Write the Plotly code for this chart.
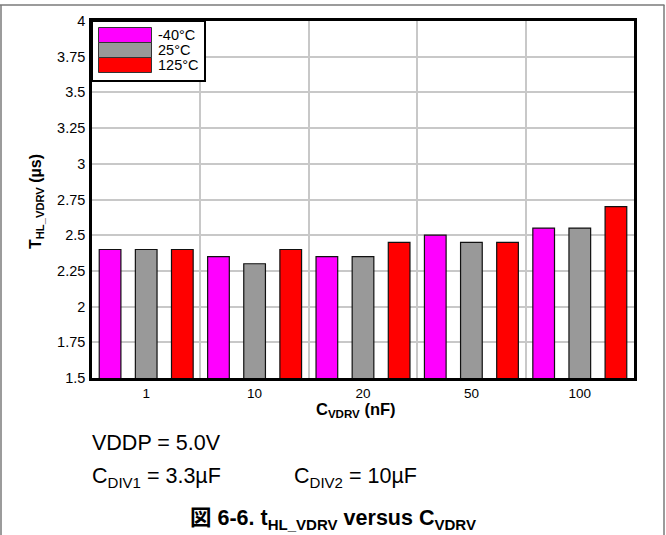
import plotly.graph_objects as go

categories = ["1", "10", "20", "50", "100"]
series_names = ["-40°C", "25°C", "125°C"]
vals_m40 = [2.40, 2.35, 2.35, 2.50, 2.55]
vals_25 = [2.40, 2.30, 2.35, 2.45, 2.55]
vals_125 = [2.40, 2.40, 2.45, 2.45, 2.70]
colors = ["#FF00FF", "#999999", "#FF0000"]
ytick_vals = [1.5, 1.75, 2, 2.25, 2.5, 2.75, 3, 3.25, 3.5, 3.75, 4]
ytick_text = ["1.5", "1.75", "2", "2.25", "2.5", "2.75", "3", "3.25", "3.5", "3.75", "4"]

W, H = 666, 535
L, R, T, B = 92, 634, 21, 378
FONT = "Liberation Sans, Arial, Noto Sans CJK JP, sans-serif"


def px(x):
    return (x - L) / (R - L)


def py(y):
    return (B - y) / (B - T)


fig = go.Figure()
for name, vals, c in zip(series_names, [vals_m40, vals_25, vals_125], colors):
    fig.add_trace(go.Bar(x=categories, y=vals, name=name, marker_color=c,
                         marker_line_color="#111111", marker_line_width=1.2,
                         showlegend=False))

shapes = []
# outer frame
fc = "#7a7a7a"
shapes.append(dict(type="line", xref="paper", yref="paper", x0=px(0), x1=px(664.5), y0=py(5), y1=py(5),
                   line=dict(color=fc, width=1.5)))
shapes.append(dict(type="line", xref="paper", yref="paper", x0=px(1), x1=px(1), y0=py(5), y1=py(536),
                   line=dict(color=fc, width=1.5)))
shapes.append(dict(type="line", xref="paper", yref="paper", x0=px(664), x1=px(664), y0=py(5), y1=py(536),
                   line=dict(color=fc, width=1.5)))
# legend box
shapes.append(dict(type="rect", xref="paper", yref="paper", x0=px(92), x1=px(205), y0=py(21), y1=py(81),
                   line=dict(color="black", width=2), fillcolor="white", layer="above"))
sw_y = [(27.5, 42.5), (42.5, 57.5), (57.5, 72.5)]
annotations = []
for (y0, y1), c, name in zip(sw_y, colors, series_names):
    shapes.append(dict(type="rect", xref="paper", yref="paper", x0=px(98.5), x1=px(151.5), y0=py(y0), y1=py(y1),
                       line=dict(color="#333333", width=1), fillcolor=c, layer="above"))
    annotations.append(dict(xref="paper", yref="paper", x=px(155.5), y=py((y0 + y1) / 2), text=name,
                            showarrow=False, xanchor="left", yanchor="middle",
                            font=dict(family=FONT, size=14.5, color="black")))

# axis titles
annotations.append(dict(xref="paper", yref="paper", x=px(356), y=py(410.5),
                        text="<b>C<sub>VDRV</sub> (nF)</b>", showarrow=False,
                        xanchor="center", yanchor="middle", font=dict(family=FONT, size=16.5, color="black")))
annotations.append(dict(xref="paper", yref="paper", x=px(36), y=py(202),
                        text="<b>T<sub>HL_VDRV</sub> (µs)</b>", showarrow=False, textangle=-90,
                        xanchor="center", yanchor="middle", font=dict(family=FONT, size=16, color="black")))
# notes
annotations.append(dict(xref="paper", yref="paper", x=px(90), y=py(443), text="VDDP = 5.0V",
                        showarrow=False, xanchor="left", yanchor="middle",
                        font=dict(family=FONT, size=21.5, color="black")))
annotations.append(dict(xref="paper", yref="paper", x=px(90), y=py(478), text="C<sub>DIV1</sub> = 3.3µF",
                        showarrow=False, xanchor="left", yanchor="middle",
                        font=dict(family=FONT, size=21.5, color="black")))
annotations.append(dict(xref="paper", yref="paper", x=px(292), y=py(478), text="C<sub>DIV2</sub> = 10µF",
                        showarrow=False, xanchor="left", yanchor="middle",
                        font=dict(family=FONT, size=21.5, color="black")))
annotations.append(dict(xref="paper", yref="paper", x=px(333), y=py(519),
                        text="<b>図 6-6. t<sub>HL_VDRV</sub> versus C<sub>VDRV</sub></b>",
                        showarrow=False, xanchor="center", yanchor="middle",
                        font=dict(family=FONT, size=21.5, color="black")))

fig.update_layout(
    width=W, height=H, autosize=False,
    margin=dict(l=L, r=W - R, t=T, b=H - B, pad=0),
    paper_bgcolor="white", plot_bgcolor="white",
    barmode="group", bargap=0.0, bargroupgap=0.4,
    shapes=shapes, annotations=annotations,
    font=dict(family=FONT, color="black"),
)
fig.update_xaxes(type="category", tickson="boundaries", ticks="", showgrid=True,
                 gridcolor="#C8C8C8", gridwidth=1.5, showline=True, linecolor="black",
                 linewidth=2.5, mirror=True, tickfont=dict(family=FONT, size=13.5, color="black"),
                 ticklabelstandoff=1)
fig.update_yaxes(range=[1.5, 4], tickvals=ytick_vals, ticktext=ytick_text, ticks="",
                 showgrid=True, gridcolor="#C8C8C8", gridwidth=1.5, showline=True,
                 linecolor="black", linewidth=2.5, mirror=True, zeroline=False,
                 tickfont=dict(family=FONT, size=14.5, color="black"), ticklabelstandoff=1)

fig.write_html("out.html", config={"displayModeBar": False},
               post_script="document.body.style.margin='0';document.body.style.overflow='hidden';")
